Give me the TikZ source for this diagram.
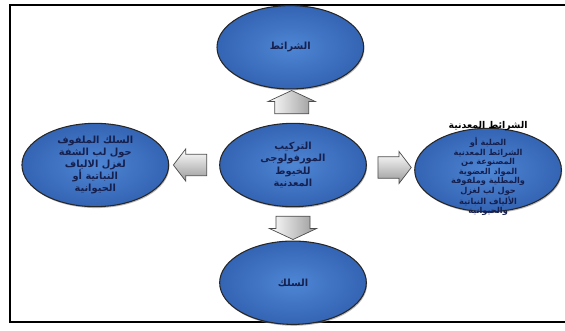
\documentclass[tikz,border=0pt]{standalone}
\usepackage{fontspec}
\newfontfamily\arabicfont[Script=Arabic]{DejaVu Sans}
\TeXXeTstate=1
\usepackage{tikz}
\usetikzlibrary{positioning,calc,shapes.geometric,shapes.arrows,shadows}

\definecolor{ovalblue}{RGB}{78,134,212}
\definecolor{ovaldark}{RGB}{52,100,180}
\definecolor{ovaltext}{RGB}{22,32,78}
\newcommand{\ar}[1]{\beginR#1\endR}

\begin{document}
\begin{tikzpicture}[
    node distance=1cm,
    topic/.style={ellipse, draw=black!85, line width=0.9pt, inner color=ovalblue, outer color=ovaldark,
        drop shadow={shadow xshift=0.7pt, shadow yshift=-1.2pt, opacity=0.55},
        minimum width=4.4cm, minimum height=2.5cm, inner sep=0pt, align=center, text=ovaltext,
        font=\arabicfont\bfseries\fontsize{8.4}{10.4}\selectfont},
    note/.style={align=center, text=ovaltext, font=\arabicfont\bfseries\fontsize{7}{8.1}\selectfont},
    vpointer/.style={single arrow, draw=black!70, line width=0.6pt, left color=white, right color=black!40,
        minimum height=0.7cm, inner xsep=0pt, inner ysep=0.5cm, single arrow head extend=0.2cm,
        single arrow tip angle=130},
    hpointer/.style={single arrow, draw=black!70, line width=0.6pt, top color=white, bottom color=black!40,
        minimum height=1.0cm, inner xsep=0pt, inner ysep=0.31cm, single arrow head extend=0.16cm,
        single arrow tip angle=105}
]
\useasboundingbox (0,0) rectangle (16.95,9.9);
\draw[line width=1.2pt] (0.3,0.24) rectangle (17.2,9.75);

\node[topic] (core) at (8.79,4.95) {\ar{التركيب}\\\ar{المورفولوجى}\\\ar{للخيوط}\\\ar{المعدنية}};
\node[topic, above=of core, xshift=-0.08cm] (ribbon) {\ar{الشرائط}};
\node[topic, below=of core] (wire) {\ar{السلك}};
\node[topic, left=1.5cm of core] (wrapped) {\ar{السلك الملفوف}\\\ar{حول لب الشفة}\\\ar{لغزل الالياف}\\\ar{النباتية أو}\\\ar{الحيوانية}};
\node[topic, right=1.42cm of core, yshift=-0.15cm] (strip) {};
\node[note] (striptext) at ([yshift=-0.2cm]strip.center) {\ar{الصلبة أو}\\\ar{الشرائط المعدنية}\\\ar{المصنوعة من}\\\ar{المواد العضوية}\\\ar{والمطلية وملفوفة}\\\ar{حول لب لغزل}\\\ar{الألياف النباتية}\\\ar{والحيوانية}};
\node[font=\arabicfont\bfseries\fontsize{8}{9}\selectfont, text=black, above=-0.22cm of strip] (striptitle) {\ar{الشرائط المعدنية}};

\node[vpointer, rotate=90] (up) at ($(core.north)!0.5!(ribbon.south)$) {};
\node[vpointer, rotate=270] (down) at ($(core.south)!0.5!(wire.north)$) {};
\node[hpointer, shape border rotate=180] (toleft) at ($(core.west)!0.5!(wrapped.east)$) {};
\node[hpointer] (toright) at ($(core.east)!0.5!(strip.west)$) {};
\end{tikzpicture}
\end{document}
